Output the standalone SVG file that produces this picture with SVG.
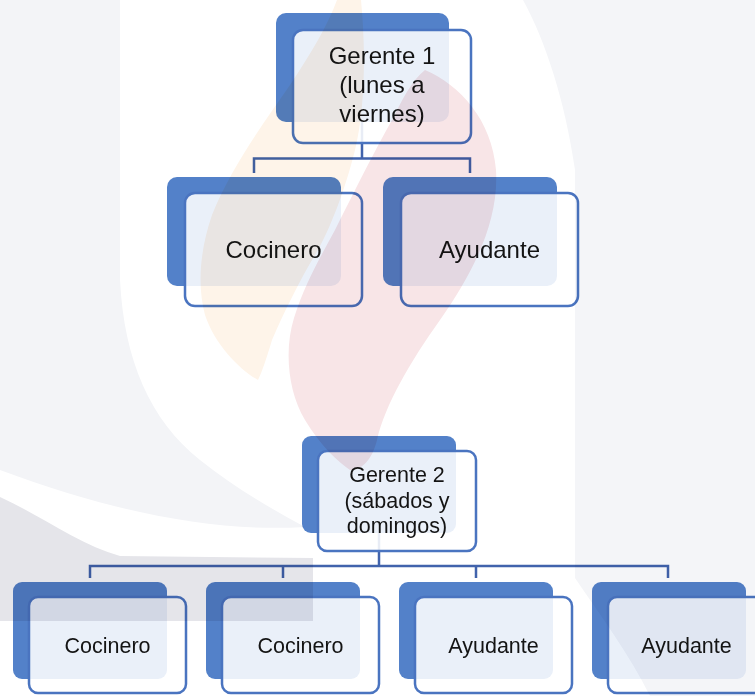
<svg xmlns="http://www.w3.org/2000/svg" width="755" height="696" viewBox="0 0 755 696">
  <style>
    .back { fill: #5381C9; }
    .front { fill: #ffffff; fill-opacity: 0.88; stroke: #4A74C0; stroke-width: 2.5; }
    .conn { fill: none; stroke: #4163AC; stroke-width: 2.5; }
    .t1 { font-family: "Liberation Sans", Arial, sans-serif; font-size: 24px; fill: #141414; text-anchor: middle; }
    .t2 { font-family: "Liberation Sans", Arial, sans-serif; font-size: 21.5px; fill: #141414; text-anchor: middle; }
    .wm { mix-blend-mode: multiply; }
  </style>
  <rect x="0" y="0" width="755" height="696" fill="#ffffff"/>

  <g id="connectors">
    <path class="conn" d="M362,122 V158.5 M254,173 V158.5 H470 V173"/>
    <path class="conn" d="M379,533 V566 M90,578 V566 H668 V578 M283,566 V578 M476,566 V578"/>
  </g>

  <g id="gerente1">
    <rect class="back" x="276" y="13" width="173" height="109" rx="10"/>
    <rect class="front" x="293" y="30" width="178" height="113" rx="10"/>
    <text class="t1" x="382" y="64">Gerente 1</text>
    <text class="t1" x="382" y="93">(lunes a</text>
    <text class="t1" x="382" y="122">viernes)</text>
  </g>
  <g id="cocinero1">
    <rect class="back" x="167" y="177" width="174" height="109" rx="10"/>
    <rect class="front" x="185" y="193" width="177" height="113" rx="10"/>
    <text class="t1" x="273.5" y="258">Cocinero</text>
  </g>
  <g id="ayudante1">
    <rect class="back" x="383" y="177" width="174" height="109" rx="10"/>
    <rect class="front" x="401" y="193" width="177" height="113" rx="10"/>
    <text class="t1" x="489.5" y="258">Ayudante</text>
  </g>

  <g id="gerente2">
    <rect class="back" x="302" y="436" width="154" height="97" rx="9"/>
    <rect class="front" x="318" y="451" width="158" height="100" rx="9"/>
    <text class="t2" x="397" y="482">Gerente 2</text>
    <text class="t2" x="397" y="508">(sábados y</text>
    <text class="t2" x="397" y="533">domingos)</text>
  </g>
  <g id="cocinero2a">
    <rect class="back" x="13" y="582" width="154" height="97" rx="9"/>
    <rect class="front" x="29" y="597" width="157" height="96" rx="9"/>
    <text class="t2" x="107.5" y="653">Cocinero</text>
  </g>
  <g id="cocinero2b">
    <rect class="back" x="206" y="582" width="154" height="97" rx="9"/>
    <rect class="front" x="222" y="597" width="157" height="96" rx="9"/>
    <text class="t2" x="300.5" y="653">Cocinero</text>
  </g>
  <g id="ayudante2a">
    <rect class="back" x="399" y="582" width="154" height="97" rx="9"/>
    <rect class="front" x="415" y="597" width="157" height="96" rx="9"/>
    <text class="t2" x="493.5" y="653">Ayudante</text>
  </g>
  <g id="ayudante2b">
    <rect class="back" x="592" y="582" width="154" height="97" rx="9"/>
    <rect class="front" x="608" y="597" width="157" height="96" rx="9"/>
    <text class="t2" x="686.5" y="653">Ayudante</text>
  </g>

  <g id="watermark" class="wm">
    <path fill="#F3F4F7" d="M0,0 H120 V280 C124,360 150,420 200,460 C235,488 270,508 305,527 C220,532 120,515 0,470 Z"/>
    <path fill="#E5E5EA" d="M0,497 C40,515 80,545 120,556 L313,558 L313,621 L0,621 Z"/>
    <path fill="#F4F5F8" d="M523,0 C545,40 565,100 575,170 V578 C600,615 630,655 650,696 H755 V0 Z"/>
    <path fill="#FEF4E9" d="M337,0 L361,0 C366,50 365,110 355,150 C345,190 330,230 315,255 C300,280 285,310 272,340 C266,360 262,372 258,380 C240,370 215,345 205,315 C197,285 200,250 212,215 C230,170 262,125 290,85 C310,55 328,25 337,0 Z"/>
    <path fill="#F8E5E7" d="M425,70 C460,85 492,120 496,170 C499,220 475,270 440,320 C410,362 385,405 377,440 C372,460 362,470 350,470 C338,462 320,445 305,420 C288,392 284,350 294,318 C305,283 320,258 335,230 C355,190 375,150 392,120 C402,100 412,80 425,70 Z"/>
  </g>
</svg>
